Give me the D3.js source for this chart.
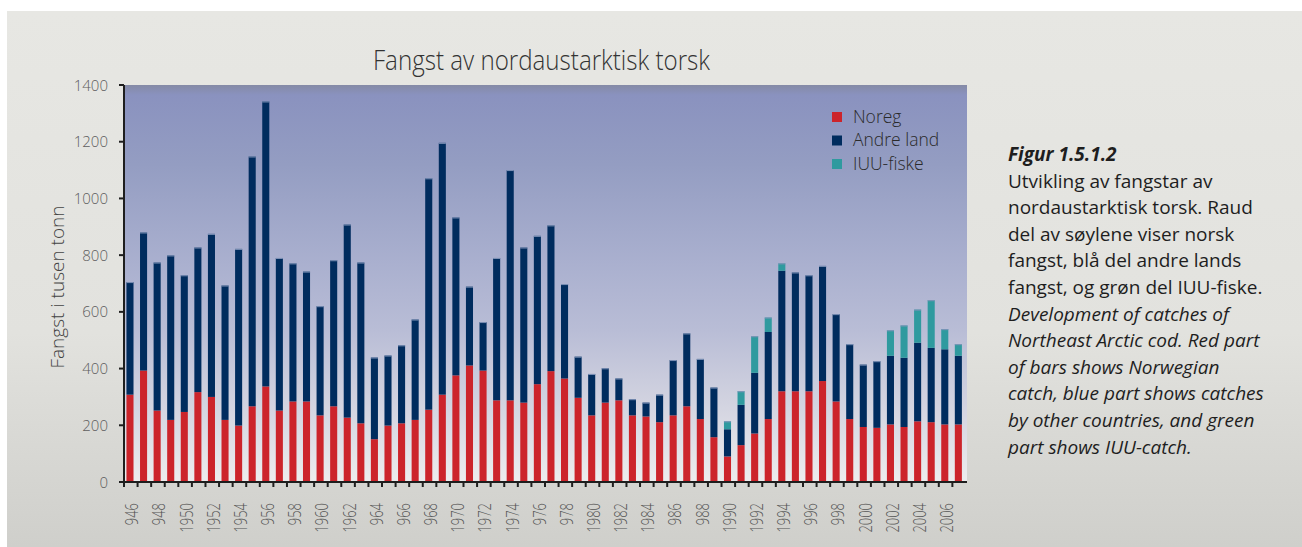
<!DOCTYPE html>
<html>
<head>
<meta charset="utf-8">
<script src="https://cdn.jsdelivr.net/npm/d3@7"></script>
<style>
  body { margin: 0; background: #fff; }
  svg { display: block; }
</style>
</head>
<body>
<div id="vis"></div>
<script>
var years = d3.range(1946, 2008);

// Norwegian catch (thousand tonnes)
var noreg = [308, 393, 252, 219, 247, 317, 300, 219, 199, 267,
             337, 252, 284, 284, 235, 267, 227, 207, 151, 199,
             207, 219, 255, 308, 376, 411, 393, 288, 288, 280,
             345, 391, 365, 297, 235, 280, 288, 235, 231, 211,
             235, 267, 222, 158, 90, 130, 171, 222, 320, 320,
             320, 356, 284, 222, 194, 191, 203, 194, 214, 211,
             203, 203];

// other countries
var andre = [397, 487, 522, 580, 482, 510, 575, 474, 623, 881,
             1005, 538, 487, 458, 385, 515, 681, 567, 288, 247,
             275, 354, 816, 888, 557, 278, 171, 502, 812, 547,
             523, 514, 333, 145, 146, 121, 77, 57, 49, 97,
             195, 257, 212, 175, 96, 142, 214, 307, 425, 419,
             409, 406, 308, 264, 220, 235, 242, 244, 277, 262,
             265, 242];

// IUU catch
var iuu = [0, 0, 0, 0, 0, 0, 0, 0, 0, 0,
           0, 0, 0, 0, 0, 0, 0, 0, 0, 0,
           0, 0, 0, 0, 0, 0, 0, 0, 0, 0,
           0, 0, 0, 0, 0, 0, 0, 0, 0, 0,
           0, 0, 0, 0, 28, 48, 129, 51, 26, 0,
           0, 0, 0, 0, 0, 0, 90, 114, 117, 168,
           71, 41];

var yTicks = [0, 200, 400, 600, 800, 1000, 1200, 1400];
var tickYears = d3.range(1946, 2008, 2);
var tickLabels = ["946", "948", "1950", "1952", "1954", "956", "958", "1960",
                  "1962", "964", "966", "968", "1970", "1972", "1974", "976",
                  "978", "1980", "1982", "1984", "986", "988", "1990", "1992",
                  "1994", "996", "998", "2000", "2002", "2004", "2006"];

var seriesNames = ["Noreg", "Andre land", "IUU-fiske"];
var seriesColors = ["#cc242b", "#002c5e", "#2f9a9f"];

var caption = [
  {t: "Figur 1.5.1.2", s: "italic", w: "bold"},
  {t: "Utvikling av fangstar av", s: "normal", w: "normal"},
  {t: "nordaustarktisk torsk. Raud", s: "normal", w: "normal"},
  {t: "del av søylene viser norsk", s: "normal", w: "normal"},
  {t: "fangst, blå del andre lands", s: "normal", w: "normal"},
  {t: "fangst, og grøn del IUU-fiske.", s: "normal", w: "normal"},
  {t: "Development of catches of", s: "italic", w: "normal"},
  {t: "Northeast Arctic cod. Red part", s: "italic", w: "normal"},
  {t: "of bars shows Norwegian", s: "italic", w: "normal"},
  {t: "catch, blue part shows catches", s: "italic", w: "normal"},
  {t: "by other countries, and green", s: "italic", w: "normal"},
  {t: "part shows IUU-catch.", s: "italic", w: "normal"}
];

(function() {

var table = years.map(function(y, i) {
  return {year: y, noreg: noreg[i], andre: andre[i], iuu: iuu[i]};
});

var width = 1302,
    height = 547,
    pLeft = 124, pRight = 967, pTop = 85, pBottom = 482;

var font = "'Open Sans', 'Noto Sans', sans-serif";

var svg = d3.select("#vis").append("svg")
    .attr("width", width)
    .attr("height", height)
    .style("font-family", font);

var defs = svg.append("defs");

var panelGrad = defs.append("linearGradient")
    .attr("id", "panel")
    .attr("x1", "0%").attr("x2", "0%")
    .attr("y1", "0%").attr("y2", "100%");
panelGrad.append("stop").attr("offset", 0).attr("stop-color", "#e7e7e3");
panelGrad.append("stop").attr("offset", 0.6).attr("stop-color", "#e2e2de");
panelGrad.append("stop").attr("offset", 1).attr("stop-color", "#cfcfcb");

var plotGrad = defs.append("linearGradient")
    .attr("id", "plotbg")
    .attr("x1", "0%").attr("x2", "0%")
    .attr("y1", "0%").attr("y2", "100%");
[[0, "#858aa6"], [0.025, "#8a92bf"], [0.2, "#949dc2"], [0.45, "#aab0cf"],
 [0.62, "#b9bdd6"], [0.8, "#d2d3e0"], [1, "#ededee"]].forEach(function(s) {
  plotGrad.append("stop").attr("offset", s[0]).attr("stop-color", s[1]);
});

defs.append("clipPath")
    .attr("id", "labclip")
    .append("rect")
    .attr("x", 0).attr("y", 0)
    .attr("width", width).attr("height", 532);

svg.append("rect")
    .attr("x", 7).attr("y", 11)
    .attr("width", width - 7).attr("height", height - 11)
    .attr("fill", "url(#panel)");

svg.append("rect")
    .attr("x", pLeft).attr("y", pTop)
    .attr("width", pRight - pLeft).attr("height", pBottom - pTop)
    .attr("fill", "url(#plotbg)");

var x = d3.scaleBand()
    .domain(years)
    .range([pLeft, pLeft + 62 * 13.58]);

var y = d3.scaleLinear()
    .domain([0, 1400])
    .range([pBottom, pTop]);

var step = x.step(),
    barW = step * 0.52,
    barOff = step * 0.18;

var stack = d3.stack().keys(["noreg", "andre", "iuu"]);
var layers = stack(table);

svg.append("g")
  .selectAll("g")
  .data(layers)
  .enter().append("g")
    .attr("fill", function(d, i) { return seriesColors[i]; })
  .selectAll("rect")
  .data(function(d) { return d.filter(function(p) { return p[1] > p[0]; }); })
  .enter().append("rect")
    .attr("x", function(d) { return x(d.data.year) + barOff; })
    .attr("y", function(d) { return y(d[1]); })
    .attr("width", barW)
    .attr("height", function(d) { return y(d[0]) - y(d[1]); });

// thin light cap on top of every bar
svg.append("g")
  .selectAll("line")
  .data(table)
  .enter().append("line")
    .attr("x1", function(d) { return x(d.year) + barOff; })
    .attr("x2", function(d) { return x(d.year) + barOff + barW; })
    .attr("y1", function(d) { return y(d.noreg + d.andre + d.iuu) + 0.5; })
    .attr("y2", function(d) { return y(d.noreg + d.andre + d.iuu) + 0.5; })
    .attr("stroke", "#7f93b8")
    .attr("stroke-width", 1);

// axes
var axisColor = "#1e1e1e";
var g = svg.append("g");

g.append("line")
    .attr("x1", pLeft).attr("x2", pLeft)
    .attr("y1", pTop).attr("y2", pBottom + 1)
    .attr("stroke", axisColor).attr("stroke-width", 2);
g.append("line")
    .attr("x1", pLeft - 1).attr("x2", pRight)
    .attr("y1", pBottom).attr("y2", pBottom)
    .attr("stroke", axisColor).attr("stroke-width", 2);

g.selectAll(".yt")
  .data(yTicks)
  .enter().append("line")
    .attr("x1", pLeft - 5).attr("x2", pLeft)
    .attr("y1", function(d) { return y(d); })
    .attr("y2", function(d) { return y(d); })
    .attr("stroke", axisColor).attr("stroke-width", 2);

g.selectAll(".yl")
  .data(yTicks)
  .enter().append("text")
    .attr("x", 108)
    .attr("y", function(d) { return y(d) + 5.5; })
    .attr("text-anchor", "end")
    .attr("font-size", 15)
    .attr("font-weight", 300)
    .attr("fill", "#5e5e5e")
    .text(function(d) { return d; });

g.selectAll(".xt")
  .data(years)
  .enter().append("line")
    .attr("x1", function(d) { return x(d); })
    .attr("x2", function(d) { return x(d); })
    .attr("y1", pBottom).attr("y2", pBottom + 5)
    .attr("stroke", axisColor).attr("stroke-width", 2);

g.append("g")
    .attr("clip-path", "url(#labclip)")
  .selectAll("text")
  .data(tickYears)
  .enter().append("text")
    .attr("transform", function(d) {
      return "translate(" + (x(d) + barOff + barW / 2 + 8.3) + ",503)rotate(-90)scale(0.74,1)";
    })
    .attr("text-anchor", "end")
    .attr("font-size", 17.5)
    .attr("font-weight", 300)
    .attr("fill", "#555")
    .text(function(d, i) { return tickLabels[i]; });

// axis title and chart title
svg.append("text")
    .attr("transform", "translate(64,287)rotate(-90)")
    .attr("text-anchor", "middle")
    .attr("font-size", 19)
    .attr("font-weight", 300)
    .attr("fill", "#444")
    .text("Fangst i tusen tonn");

svg.append("text")
    .attr("x", 373).attr("y", 70)
    .attr("font-size", 27)
    .attr("font-weight", 300)
    .attr("fill", "#333")
    .attr("textLength", 337)
    .attr("lengthAdjust", "spacingAndGlyphs")
    .text("Fangst av nordaustarktisk torsk");

// legend
var legend = svg.append("g")
  .selectAll("g")
  .data(seriesNames)
  .enter().append("g")
    .attr("transform", function(d, i) { return "translate(832," + (112 + i * 23.5) + ")"; });

legend.append("rect")
    .attr("width", 10).attr("height", 10)
    .attr("fill", function(d, i) { return seriesColors[i]; });

legend.append("text")
    .attr("x", 21).attr("y", 10.5)
    .attr("font-size", 17.5)
    .attr("font-weight", 300)
    .attr("fill", "#2a2a2a")
    .text(function(d) { return d; });

// caption
svg.append("g")
  .selectAll("text")
  .data(caption)
  .enter().append("text")
    .attr("x", 1008)
    .attr("y", function(d, i) { return 161 + i * 26.6; })
    .attr("font-size", 19)
    .attr("font-style", function(d) { return d.s; })
    .attr("font-weight", function(d) { return d.w; })
    .attr("fill", "#1e1e1e")
    .text(function(d) { return d.t; });

})();
</script>
</body>
</html>
